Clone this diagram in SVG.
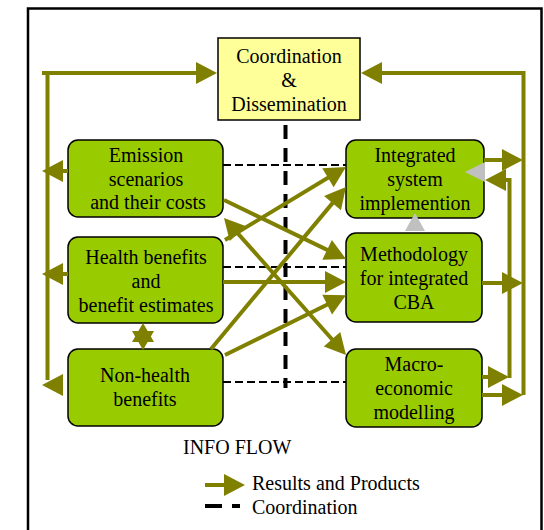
<svg xmlns="http://www.w3.org/2000/svg" width="544" height="530" viewBox="0 0 544 530">
<style>
  .t{font-family:"Liberation Serif","Times New Roman",serif;font-size:20px;fill:#000;text-anchor:middle}
  .tl{font-family:"Liberation Serif","Times New Roman",serif;font-size:20px;fill:#000}
  .g{fill:#99CC00;stroke:#000;stroke-width:1.5}
  .y{fill:#FFFF99;stroke:#000;stroke-width:1.5}
  .f{fill:none;stroke:#808000;stroke-width:4}
  .fa{fill:none;stroke:#808000;stroke-width:4;marker-end:url(#a)}
  .fb{fill:none;stroke:#808000;stroke-width:4;marker-end:url(#a);marker-start:url(#a)}
  .d{fill:none;stroke:#000;stroke-width:2;stroke-dasharray:8 4}
  .dv{fill:none;stroke:#000;stroke-width:4;stroke-dasharray:14 9}
  .hd{fill:#808000}
  .gr{fill:#C0C0C0}
</style>
<defs>
  <marker id="a" markerUnits="userSpaceOnUse" markerWidth="22" markerHeight="22" refX="15" refY="11" orient="auto-start-reverse" overflow="visible">
    <path d="M0,0 L21,11 L0,22 Z" fill="#808000"/>
  </marker>
</defs>
<rect x="28" y="8.5" width="513.5" height="530" fill="#fff" stroke="#000" stroke-width="2.5"/>

<g id="coordination">
  <rect class="y" x="218" y="38" width="142" height="82"/>
  <text class="t" x="289" y="63">Coordination</text>
  <text class="t" x="289" y="87">&amp;</text>
  <text class="t" x="289" y="111">Dissemination</text>
</g>
<g id="emission">
  <rect class="g" x="68" y="140" width="155" height="77" rx="10"/>
  <text class="t" x="146" y="162">Emission</text>
  <text class="t" x="146" y="186">scenarios</text>
  <text class="t" x="148" y="209">and their costs</text>
</g>
<g id="health">
  <rect class="g" x="68" y="237" width="155" height="86" rx="10"/>
  <text class="t" x="146" y="264">Health benefits</text>
  <text class="t" x="146" y="288">and</text>
  <text class="t" x="146" y="312">benefit estimates</text>
</g>
<g id="nonhealth">
  <rect class="g" x="68" y="349" width="155" height="77" rx="10"/>
  <text class="t" x="145" y="382">Non-health</text>
  <text class="t" x="145" y="406">benefits</text>
</g>
<g id="integrated">
  <rect class="g" x="346" y="140" width="138" height="78" rx="10"/>
  <text class="t" x="415" y="162">Integrated</text>
  <text class="t" x="415" y="186">system</text>
  <text class="t" x="415" y="210">implemention</text>
</g>
<g id="methodology">
  <rect class="g" x="346" y="233" width="136" height="89" rx="10"/>
  <text class="t" x="414" y="261">Methodology</text>
  <text class="t" x="414" y="285">for integrated</text>
  <text class="t" x="414" y="309">CBA</text>
</g>
<g id="macro">
  <rect class="g" x="346" y="349" width="136" height="78" rx="10"/>
  <text class="t" x="414" y="371">Macro-</text>
  <text class="t" x="414" y="395">economic</text>
  <text class="t" x="414" y="419">modelling</text>
</g>

<g id="connectors">
  <!-- coordination dashed -->
  <path class="dv" d="M285.5,125 V388"/>
  <path class="d" d="M223,165 H346"/>
  <path class="d" d="M223,267 H346"/>
  <path class="d" d="M223,382 H346"/>
  <!-- left bus -->
  <path class="fa" d="M42,73 H211"/>
  <path class="f" d="M47.5,71 V380"/>
  <polygon class="hd" points="42,385 63,374 63,396"/>
  <path class="fa" d="M68,171 H48"/>
  <path class="fa" d="M68,274 H48"/>
  <!-- right bus -->
  <path class="fa" d="M523.5,395 V73 H367"/>
  <path class="fa" d="M509.5,378 V180 H491"/>
  <path class="fa" d="M484,160 H517"/>
  <path class="fa" d="M482,283 H517"/>
  <path class="fa" d="M482,377 H503"/>
  <path class="fa" d="M482,395 H517"/>
  <!-- gray arrows -->
  <polygon class="gr" points="465,172 485,162 485,182"/>
  <polygon class="gr" points="415,213 405,231 425,231"/>
  <!-- middle diagonals -->
  <path class="fa" d="M224,200 L340.6,256.4"/>
  <path class="fa" d="M225,240 L340.8,170"/>
  <path class="fa" d="M211,349 L342.1,191.6"/>
  <path class="fa" d="M225,355 L340.6,298"/>
  <path class="fa" d="M223,282 H340"/>
  <path class="fb" d="M228,222.4 L342,350.5"/>
  <!-- health / non-health star -->
  <polygon class="hd" points="143,323 132,342 154,342"/>
  <polygon class="hd" points="143,350 132,331 154,331"/>
</g>

<g id="legend">
  <text class="tl" x="183" y="454">INFO FLOW</text>
  <path class="fa" d="M205,485 H239"/>
  <text class="tl" x="252" y="490">Results and Products</text>
  <path d="M205,506 H240" fill="none" stroke="#000" stroke-width="4" stroke-dasharray="17 10"/>
  <text class="tl" x="252" y="514">Coordination</text>
</g>
</svg>
